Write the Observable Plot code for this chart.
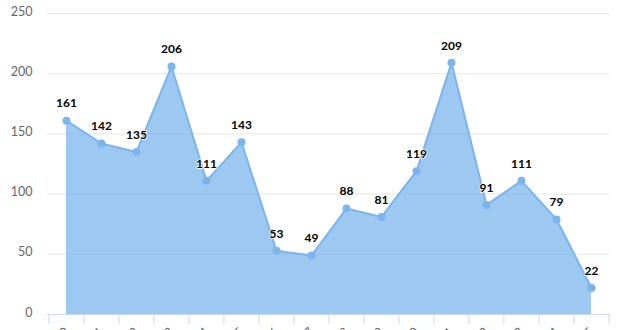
<!DOCTYPE html>
<html>
<head>
<meta charset="utf-8">
<script src="https://cdn.jsdelivr.net/npm/d3@7"></script>
<script src="https://cdn.jsdelivr.net/npm/@observablehq/plot@0.6"></script>
<style>
  html, body { margin: 0; padding: 0; background: #ffffff; overflow: hidden; }
</style>
</head>
<body>
<div id="chart"></div>
<script>
const years = ["2000","2001","2002","2003","2004","2005","2006","2007","2008","2009","2010","2011","2012","2013","2014","2015"];
const values = [161, 142, 135, 206, 111, 143, 53, 49, 88, 81, 119, 209, 91, 111, 79, 22];
const yTicks = [0, 50, 100, 150, 200, 250];

const data = years.map((year, i) => ({year, value: values[i]}));

const W = 620, H = 330, mL = 47, mR = 10, mT = 13, mB = 16;
const half = (W - mL - mR) / years.length / 2;
const color = "#7cb5ec";

const chart = Plot.plot({
  width: W,
  height: H,
  marginLeft: mL,
  marginRight: mR,
  marginTop: mT,
  marginBottom: mB,
  style: {fontFamily: "Lato, 'Open Sans', sans-serif", background: "#ffffff", overflow: "visible"},
  x: {type: "point", domain: years, padding: 0.5, label: null},
  y: {domain: [0, 250], label: null},
  marks: [
    Plot.gridY(yTicks, {stroke: "#e6e6e6", strokeOpacity: 1}),
    Plot.areaY(data, {x: "year", y: "value", fill: color, fillOpacity: 0.75}),
    Plot.lineY(data, {x: "year", y: "value", stroke: color, strokeWidth: 2}),
    Plot.ruleY([0], {stroke: "#ccd6eb"}),
    Plot.dot(data, {x: "year", y: "value", r: 4, fill: color, stroke: null}),
    Plot.text(data, {x: "year", y: "value", text: d => String(d.value), dy: -17,
      fill: "#000", stroke: "#fff", strokeWidth: 1.5, paintOrder: "stroke",
      fontWeight: "bold", fontSize: 12}),
    Plot.axisY(yTicks, {tickSize: 0, tickPadding: 15, fill: "#666", fontSize: 12.5, dy: -2}),
    Plot.axisX({tickSize: 10, stroke: "#ccd6eb", text: null, dx: -half}),
    Plot.axisX([years[years.length - 1]], {tickSize: 10, stroke: "#ccd6eb", text: null, dx: half}),
    Plot.axisX({tickSize: 0, tickPadding: 15, tickRotate: -45, fill: "#666", fontSize: 12})
  ]
});

document.getElementById("chart").appendChild(chart);
</script>
</body>
</html>
